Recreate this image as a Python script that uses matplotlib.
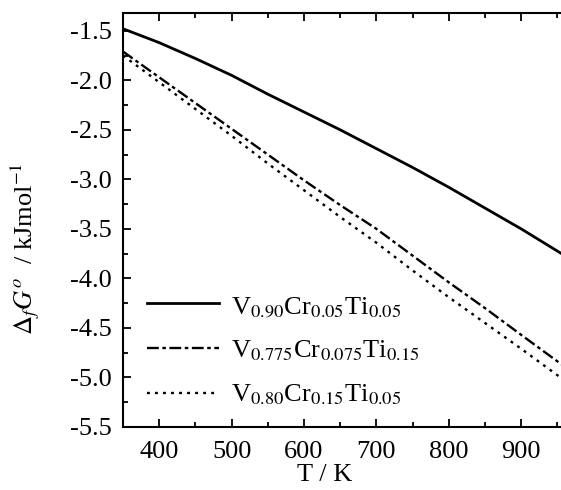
import matplotlib
matplotlib.use("Agg")
import matplotlib.pyplot as plt
from matplotlib.ticker import MultipleLocator, FormatStrFormatter

plt.rcParams["font.family"] = ["Liberation Serif", "DejaVu Serif"]
plt.rcParams["mathtext.fontset"] = "stix"

# temperature grid (K) and Gibbs energies of formation (kJ/mol)
temp_k = [350, 400, 450, 500, 550, 600, 650, 700, 750, 800, 850, 900, 958]
dg_v90_cr05_ti05 = [-1.48, -1.62, -1.78, -1.95, -2.14, -2.32, -2.50, -2.69, -2.88, -3.08, -3.29, -3.50, -3.76]
dg_v775_cr075_ti15 = [-1.71, -1.97, -2.23, -2.49, -2.75, -3.01, -3.26, -3.50, -3.77, -4.04, -4.30, -4.57, -4.88]
dg_v80_cr15_ti05 = [-1.75, -2.02, -2.29, -2.56, -2.84, -3.11, -3.38, -3.64, -3.92, -4.19, -4.45, -4.71, -5.02]

labels = [
    r"V$_{0.90}$Cr$_{0.05}$Ti$_{0.05}$",
    r"V$_{0.775}$Cr$_{0.075}$Ti$_{0.15}$",
    r"V$_{0.80}$Cr$_{0.15}$Ti$_{0.05}$",
]

fig = plt.figure(figsize=(5.61, 4.9), dpi=100)
ax = fig.add_axes([0.2193, 0.1286, 0.7807, 0.845])

ax.plot(temp_k, dg_v90_cr05_ti05, color="black", lw=2.0, ls="-", label=labels[0])
ax.plot(temp_k, dg_v775_cr075_ti15, color="black", lw=1.7, ls=(0, (5, 1.5, 1.5, 1.5)), label=labels[1])
ax.plot(temp_k, dg_v80_cr15_ti05, color="black", lw=1.7, ls=(0, (1.2, 2.2)), label=labels[2])

ax.set_xlim(350, 955)
ax.set_ylim(-5.5, -1.32)
ax.xaxis.set_major_locator(MultipleLocator(100))
ax.xaxis.set_minor_locator(MultipleLocator(50))
ax.yaxis.set_major_locator(MultipleLocator(0.5))
ax.yaxis.set_minor_locator(MultipleLocator(0.25))
ax.yaxis.set_major_formatter(FormatStrFormatter("%.1f"))

ax.tick_params(which="both", direction="in", top=True, right=False, width=1.3, labelsize=19)
ax.tick_params(which="major", length=6)
ax.tick_params(which="minor", length=3.5)
ax.tick_params(axis="y", pad=8)
ax.tick_params(axis="x", pad=10)
for side in ["left", "bottom", "top"]:
    ax.spines[side].set_linewidth(1.5)
ax.spines["right"].set_visible(False)

ax.set_xlabel("T / K", fontsize=19)
ax.xaxis.set_label_coords(0.46, -0.09)
ax.set_ylabel(r"$\Delta_f G^o$  / kJmol$^{-1}$", fontsize=19)
ax.yaxis.set_label_coords(-0.185, 0.43)

ax.legend(loc="lower left", bbox_to_anchor=(0.0, -0.01), frameon=False, fontsize=19,
          handlelength=2.75, handletextpad=0.45, labelspacing=0.75, borderpad=0.4)

fig.savefig("out.png", dpi=100)
